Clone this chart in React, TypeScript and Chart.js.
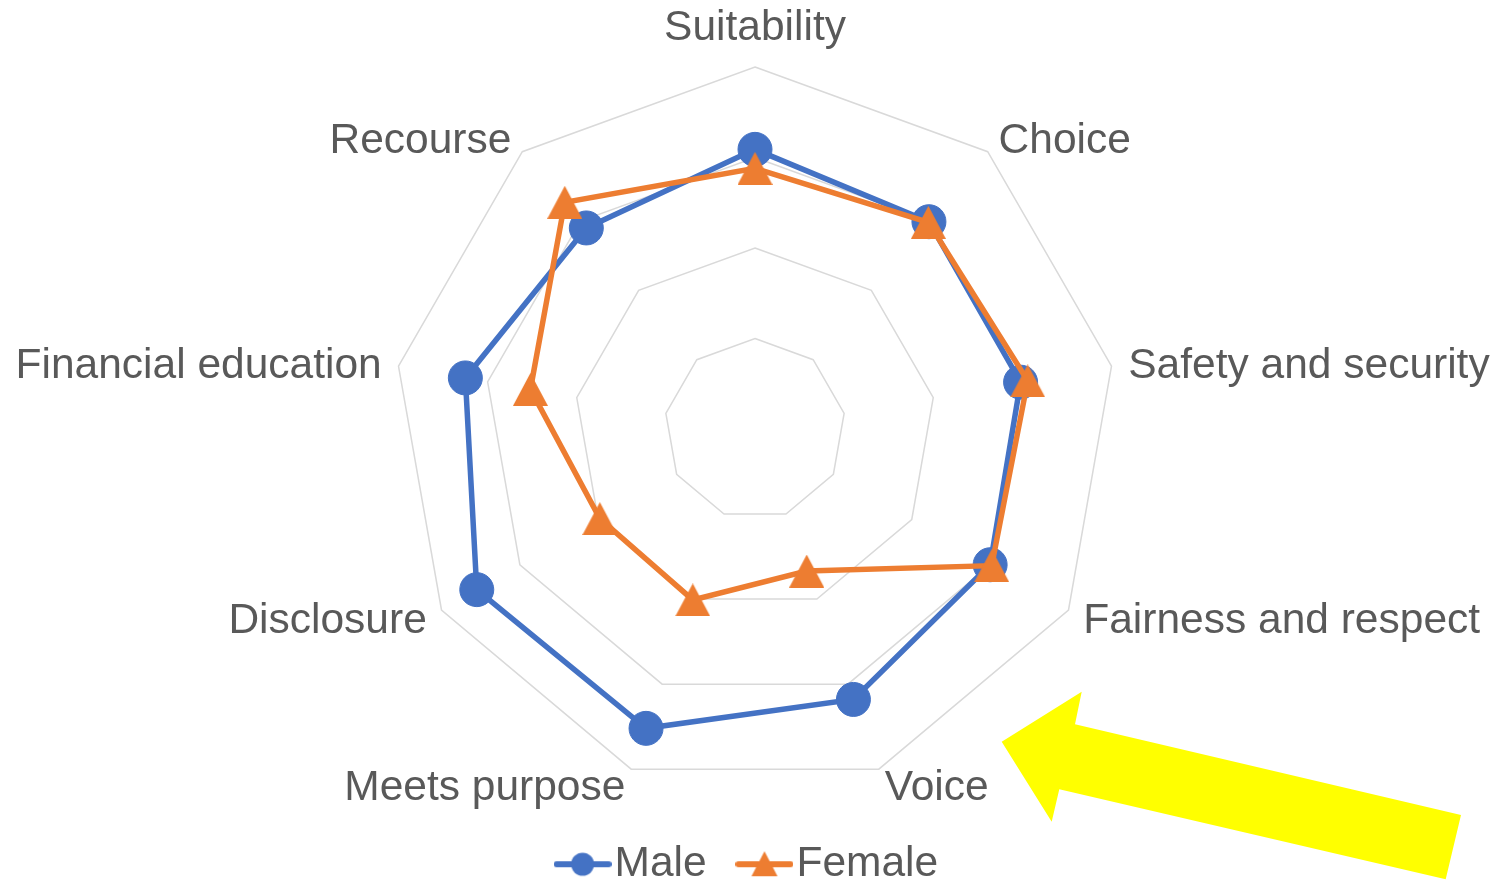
import React, { useEffect, useRef } from 'react';
import { Chart, registerables } from 'chart.js';

Chart.register(...registerables);

// ---- data ----
const CATEGORIES = [
  'Suitability',
  'Choice',
  'Safety and security',
  'Fairness and respect',
  'Voice',
  'Meets purpose',
  'Disclosure',
  'Financial education',
  'Recourse',
];
const MALE = [3.09, 2.99, 2.98, 3.0, 3.18, 3.52, 3.55, 3.25, 2.9];
const FEMALE = [2.88, 2.98, 3.06, 3.02, 1.67, 2.01, 1.98, 2.52, 3.27];
const SERIES_NAMES = ['Male', 'Female'];
const SCALE_MIN = 0;
const SCALE_MAX = 4;
const SCALE_STEP = 1;

// ---- styles ----
const BLUE = '#4472C4';
const ORANGE = '#ED7D31';
const GRID = '#D9D9D9';
const TEXT = '#595959';
const FONT = '"Liberation Sans", Arial, sans-serif';
const LABEL_SIZE = 42.5;
const LABEL_GAP = 17;
const LABEL_MIDDLE_SHIFT = 3;

function makeTriangle(color: string, w: number, h: number) {
  const c = document.createElement('canvas');
  c.width = w;
  c.height = h;
  const ctx = c.getContext('2d')!;
  ctx.fillStyle = color;
  ctx.beginPath();
  ctx.moveTo(0, h);
  ctx.lineTo(w / 2, 0);
  ctx.lineTo(w, h);
  ctx.closePath();
  ctx.fill();
  return c;
}

function makeLegendIcon(color: string, shape: 'circle' | 'triangle') {
  const c = document.createElement('canvas');
  c.width = 58;
  c.height = 28;
  const ctx = c.getContext('2d')!;
  ctx.strokeStyle = color;
  ctx.fillStyle = color;
  ctx.lineWidth = 6;
  ctx.lineCap = 'round';
  ctx.beginPath();
  ctx.moveTo(3, 14);
  ctx.lineTo(55, 14);
  ctx.stroke();
  ctx.beginPath();
  if (shape === 'circle') {
    ctx.arc(29, 14, 11.5, 0, Math.PI * 2);
  } else {
    ctx.moveTo(16, 26);
    ctx.lineTo(29, 1);
    ctx.lineTo(42, 26);
    ctx.closePath();
  }
  ctx.fill();
  return c;
}

const axisLabelsPlugin = {
  id: 'axisLabels',
  afterDraw(chart: any) {
    const scale = chart.scales.r;
    const ctx = chart.ctx;
    const labels: string[] = chart.data.labels;
    const n = labels.length;
    ctx.save();
    ctx.font = `${LABEL_SIZE}px ${FONT}`;
    ctx.fillStyle = TEXT;
    labels.forEach((label, i) => {
      const p = scale.getPointPosition(i, scale.drawingArea + LABEL_GAP);
      const deg = Math.round((i * 360) / n);
      let align: CanvasTextAlign = 'center';
      if (deg > 0 && deg < 180) align = 'left';
      else if (deg > 180) align = 'right';
      ctx.textAlign = align;
      if (deg === 0) {
        ctx.textBaseline = 'bottom';
        ctx.fillText(label, p.x, p.y);
      } else {
        ctx.textBaseline = 'middle';
        ctx.fillText(label, p.x, p.y + LABEL_MIDDLE_SHIFT);
      }
    });
    ctx.restore();
  },
};

const arrowPlugin = {
  id: 'yellowArrow',
  afterDraw(chart: any) {
    const ctx = chart.ctx;
    ctx.save();
    ctx.fillStyle = '#FFFF00';
    ctx.beginPath();
    ctx.moveTo(1001.7, 741.7);
    ctx.lineTo(1081.7, 691.7);
    ctx.lineTo(1075, 724.3);
    ctx.lineTo(1461, 815);
    ctx.lineTo(1445.7, 879.3);
    ctx.lineTo(1059.3, 789.3);
    ctx.lineTo(1051.7, 821.7);
    ctx.closePath();
    ctx.fill();
    ctx.restore();
  },
};

export default function App() {
  const canvasRef = useRef<HTMLCanvasElement | null>(null);

  useEffect(() => {
    if (!canvasRef.current) return;
    const icons = [makeLegendIcon(BLUE, 'circle'), makeLegendIcon(ORANGE, 'triangle')];
    const triangle = makeTriangle(ORANGE, 35, 33);
    const chart = new Chart(canvasRef.current, {
      type: 'radar',
      data: {
        labels: CATEGORIES,
        datasets: [
          {
            label: SERIES_NAMES[0],
            data: MALE,
            borderColor: BLUE,
            backgroundColor: BLUE,
            borderWidth: 5.5,
            fill: false,
            pointStyle: 'circle',
            pointRadius: 17,
            pointBorderWidth: 1,
            pointBackgroundColor: BLUE,
            pointBorderColor: BLUE,
            order: 1,
          },
          {
            label: SERIES_NAMES[1],
            data: FEMALE,
            borderColor: ORANGE,
            backgroundColor: ORANGE,
            borderWidth: 5.5,
            fill: false,
            pointStyle: triangle as any,
            pointRadius: 17,
            pointBackgroundColor: ORANGE,
            pointBorderColor: ORANGE,
            order: 0,
          },
        ],
      },
      options: {
        animation: false,
        responsive: true,
        maintainAspectRatio: false,
        layout: { padding: { top: 67, left: 11, right: 0, bottom: -14.5 } },
        scales: {
          r: {
            min: SCALE_MIN,
            max: SCALE_MAX,
            ticks: { display: false, stepSize: SCALE_STEP },
            grid: { color: GRID, lineWidth: 1.5, circular: false },
            angleLines: { display: false },
            pointLabels: { display: false },
          },
        },
        plugins: {
          tooltip: { enabled: false },
          legend: {
            position: 'bottom',
            title: { display: true, text: '', padding: 0, font: { size: 5, lineHeight: 1 } },
            labels: {
              usePointStyle: true,
              pointStyleWidth: 21.5,
              padding: 47,
              color: TEXT,
              font: { size: LABEL_SIZE, family: FONT },
              generateLabels: (c: any) =>
                c.data.datasets.map((ds: any, i: number) => ({
                  text: ds.label,
                  fillStyle: ds.backgroundColor,
                  strokeStyle: ds.borderColor,
                  lineWidth: 0,
                  pointStyle: icons[i],
                  hidden: false,
                  datasetIndex: i,
                  fontColor: TEXT,
                })),
            },
          },
        },
      },
      plugins: [axisLabelsPlugin, arrowPlugin],
    });
    return () => chart.destroy();
  }, []);

  return (
    <div style={{ position: 'absolute', left: 0, top: 0, width: 1499, height: 881 }}>
      <canvas ref={canvasRef} />
    </div>
  );
}
